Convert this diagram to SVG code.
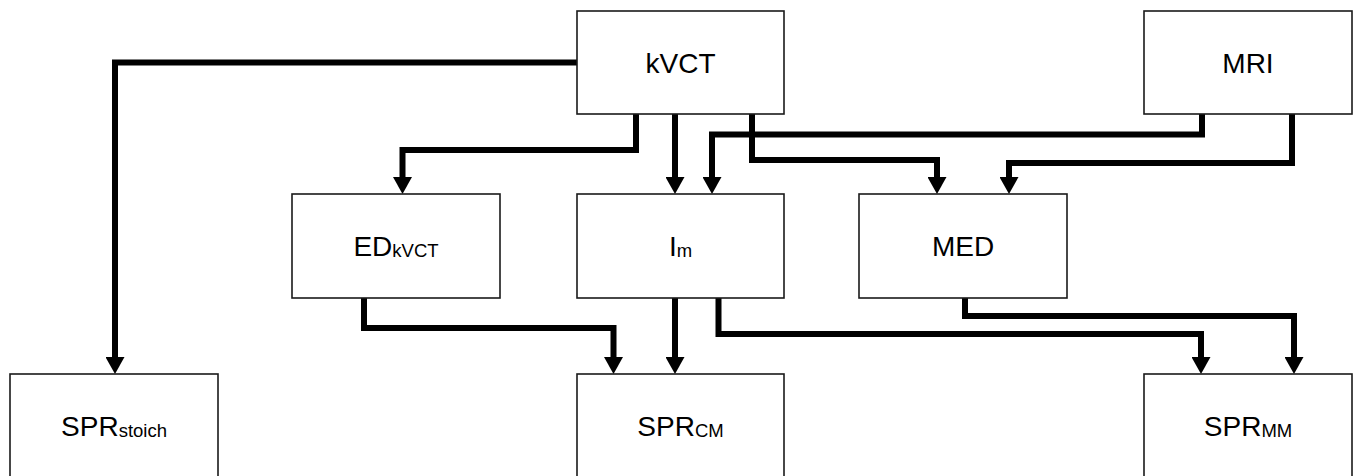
<svg xmlns="http://www.w3.org/2000/svg" width="1358" height="476" viewBox="0 0 1358 476">
<style>
.box{fill:#fff;stroke:#1a1a1a;stroke-width:1.6}
.lbl{font-family:"Liberation Sans",Arial,sans-serif;font-size:28px;fill:#000;text-anchor:middle}
.sub{font-size:18.5px}
.conn{fill:none;stroke:#000;stroke-width:6;stroke-linejoin:miter;stroke-linecap:butt}
</style>
<defs>
<marker id="arr" markerUnits="userSpaceOnUse" viewBox="0 0 17 19" refX="0" refY="9.5" markerWidth="17" markerHeight="19" orient="auto">
<path d="M0,0 L17,9.5 L0,19 z" fill="#000"/>
</marker>
</defs>
<rect width="1358" height="476" fill="#fff"/>
<g id="connectors">
<path class="conn" marker-end="url(#arr)" d="M577,62.5 H115 V357"/>
<path class="conn" marker-end="url(#arr)" d="M636,114 V150 H402.5 V177"/>
<path class="conn" marker-end="url(#arr)" d="M675,114 V177"/>
<path class="conn" marker-end="url(#arr)" d="M752,114 V160 H937 V177"/>
<path class="conn" marker-end="url(#arr)" d="M1202,114 V134.5 H712 V177"/>
<path class="conn" marker-end="url(#arr)" d="M1292,114 V163 H1009 V177"/>
<path class="conn" marker-end="url(#arr)" d="M364,298 V328 H613.5 V357"/>
<path class="conn" marker-end="url(#arr)" d="M675,298 V357"/>
<path class="conn" marker-end="url(#arr)" d="M718.5,298 V334 H1201 V357"/>
<path class="conn" marker-end="url(#arr)" d="M965,298 V316 H1294 V357"/>
</g>
<g id="kVCT"><rect class="box" x="577" y="11" width="207" height="103"/><text class="lbl" x="680.5" y="72.5">kVCT</text></g>
<g id="MRI"><rect class="box" x="1144" y="11" width="208" height="103"/><text class="lbl" x="1248" y="72.5">MRI</text></g>
<g id="EDkVCT"><rect class="box" x="292" y="194" width="208" height="104"/><text class="lbl" x="396" y="256">ED<tspan class="sub" dy="1">kVCT</tspan></text></g>
<g id="Im"><rect class="box" x="577" y="194" width="207" height="104"/><text class="lbl" x="680.5" y="256">I<tspan class="sub" dy="1">m</tspan></text></g>
<g id="MED"><rect class="box" x="859" y="194" width="208" height="104"/><text class="lbl" x="963" y="256">MED</text></g>
<g id="SPRstoich"><rect class="box" x="10" y="374" width="208" height="104"/><text class="lbl" x="114" y="436">SPR<tspan class="sub" dy="1">stoich</tspan></text></g>
<g id="SPRCM"><rect class="box" x="577" y="374" width="207" height="104"/><text class="lbl" x="680.5" y="436">SPR<tspan class="sub" dy="1">CM</tspan></text></g>
<g id="SPRMM"><rect class="box" x="1144" y="374" width="208" height="104"/><text class="lbl" x="1248" y="436">SPR<tspan class="sub" dy="1">MM</tspan></text></g>
</svg>
